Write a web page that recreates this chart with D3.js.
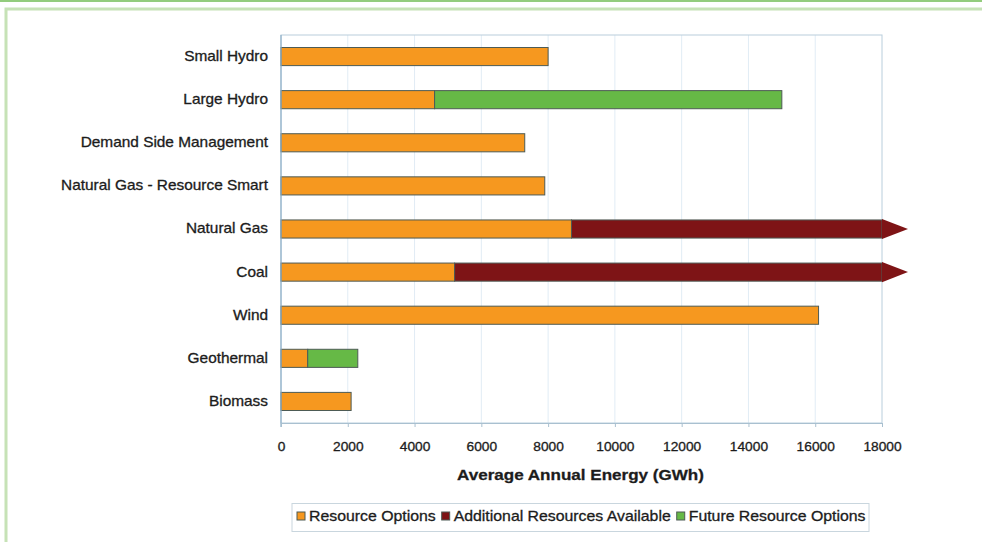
<!DOCTYPE html>
<html>
<head>
<meta charset="utf-8">
<script src="https://cdn.jsdelivr.net/npm/d3@7"></script>
<style>
  html, body { margin: 0; padding: 0; background: #ffffff; }
  svg { display: block; }
  text { font-family: "Liberation Sans", Arial, sans-serif; fill: #1c1c1c; stroke: #1c1c1c; stroke-width: 0.3px; }
</style>
</head>
<body>
<svg id="chart" width="982" height="542"></svg>
<script>
// Resource categories, top to bottom
const categories = [
  "Small Hydro",
  "Large Hydro",
  "Demand Side Management",
  "Natural Gas - Resource Smart",
  "Natural Gas",
  "Coal",
  "Wind",
  "Geothermal",
  "Biomass"
];

// Average annual energy (GWh) per series
const resourceOptions     = [8000, 4600, 7300, 7900, 8700, 5200, 16100, 800, 2100];
const additionalResources = [0, 0, 0, 0, 9300, 12800, 0, 0, 0];
const futureOptions       = [0, 10400, 0, 0, 0, 0, 0, 1500, 0];

const seriesNames  = ["Resource Options", "Additional Resources Available", "Future Resource Options"];
const seriesColors = ["#f6981f", "#7e1416", "#66b946"];

const xTicks = [0, 2000, 4000, 6000, 8000, 10000, 12000, 14000, 16000, 18000];
const xMax = 18000;

// Slightly widened lettering used throughout
const STRETCH = 1.1;
function stretch(sel) {
  sel.each(function () {
    const t = d3.select(this);
    const tx = +t.attr("x") || 0, ty = +t.attr("y") || 0;
    t.attr("transform", `translate(${tx},${ty}) scale(${STRETCH},1) translate(${-tx},${-ty})`);
  });
}

const svg = d3.select("#chart");

// Page frame
svg.append("rect").attr("x", 0).attr("y", 0).attr("width", 982).attr("height", 2).attr("fill", "#93cc7d");
svg.append("path")
  .attr("d", "M6,542 L6,9 L982,9")
  .attr("fill", "none").attr("stroke", "#c6e2b6").attr("stroke-width", 3);

const plot = { left: 281, right: 882, top: 35, bottom: 423 };

const x = d3.scaleLinear().domain([0, xMax]).range([plot.left, plot.right]);
const y = d3.scaleBand().domain(categories).range([plot.top, plot.bottom]).paddingInner(0.58).paddingOuter(0.29);

// Stack the three series per category
const rows = categories.map((c, i) => ({
  cat: c,
  s0: resourceOptions[i],
  s1: additionalResources[i],
  s2: futureOptions[i]
}));
const stacked = d3.stack().keys(["s0", "s1", "s2"])(rows);

// Vertical gridlines
svg.append("g").selectAll("line")
  .data(xTicks.slice(1, -1))
  .join("line")
  .attr("x1", d => x(d)).attr("x2", d => x(d))
  .attr("y1", plot.top).attr("y2", plot.bottom)
  .attr("stroke", "#e1ecf5").attr("stroke-width", 1);

// Plot frame
svg.append("rect")
  .attr("x", plot.left).attr("y", plot.top)
  .attr("width", plot.right - plot.left).attr("height", plot.bottom - plot.top)
  .attr("fill", "none").attr("stroke", "#b9cedc").attr("stroke-width", 1);

// Bars
const barG = svg.append("g");
stacked.forEach((layer, k) => {
  barG.append("g").selectAll("rect")
    .data(layer.filter(d => d[1] - d[0] > 0))
    .join("rect")
    .attr("x", d => x(d[0]))
    .attr("y", d => y(d.data.cat))
    .attr("width", d => x(d[1]) - x(d[0]))
    .attr("height", y.bandwidth())
    .attr("fill", seriesColors[k])
    .attr("stroke", "#4d5b55")
    .attr("stroke-width", 1);
});

// Arrow heads where the stack runs past the axis maximum
const lastLayer = stacked[stacked.length - 1];
barG.append("g").selectAll("path")
  .data(lastLayer.filter(d => d[1] >= xMax))
  .join("path")
  .attr("d", d => {
    const x0 = x(xMax), yc = y(d.data.cat) + y.bandwidth() / 2, h = y.bandwidth() / 2 + 1;
    return `M${x0},${yc - h} L${x0 + 26},${yc} L${x0},${yc + h} Z`;
  })
  .attr("fill", seriesColors[1]);

// Left axis line
svg.append("line")
  .attr("x1", plot.left).attr("x2", plot.left)
  .attr("y1", plot.top).attr("y2", plot.bottom + 4)
  .attr("stroke", "#8fb1c9").attr("stroke-width", 1.2);

// Bottom axis
const xAxis = d3.axisBottom(x).tickValues(xTicks).tickFormat(d3.format("d")).tickSize(4).tickPadding(15);
const gx = svg.append("g").attr("transform", `translate(0,${plot.bottom})`).call(xAxis);
gx.select(".domain").attr("stroke", "#a9c0d0");
gx.selectAll(".tick line").attr("stroke", "#a9c0d0");
gx.selectAll(".tick text").attr("fill", null).style("font-size", "12.5px").call(stretch);

// Category labels
const yAxis = d3.axisLeft(y).tickSize(0).tickPadding(13);
const gy = svg.append("g").attr("transform", `translate(${plot.left},0)`).call(yAxis);
gy.select(".domain").remove();
gy.selectAll(".tick text").attr("fill", null).style("font-size", "14px").call(stretch);

// Axis title
svg.append("text")
  .attr("x", (plot.left + plot.right) / 2 - 1).attr("y", 480)
  .attr("text-anchor", "middle")
  .style("font-size", "15.5px").style("font-weight", "bold")
  .text("Average Annual Energy (GWh)")
  .call(stretch);

// Legend
const legend = svg.append("g");
legend.append("rect")
  .attr("x", 292).attr("y", 503.5).attr("width", 577).attr("height", 28)
  .attr("fill", "#fff").attr("stroke", "#c9d6de").attr("stroke-width", 1);
let lx = 297;
seriesNames.forEach((name, k) => {
  legend.append("rect")
    .attr("x", lx).attr("y", 512).attr("width", 8).attr("height", 8)
    .attr("fill", seriesColors[k]).attr("stroke", "#4d5b55").attr("stroke-width", 1);
  const t = legend.append("text")
    .attr("x", lx + 12).attr("y", 521.5)
    .style("font-size", "14.4px")
    .text(name)
    .call(stretch);
  lx += 12 + t.node().getComputedTextLength() * STRETCH + 6;
});
</script>
</body>
</html>
